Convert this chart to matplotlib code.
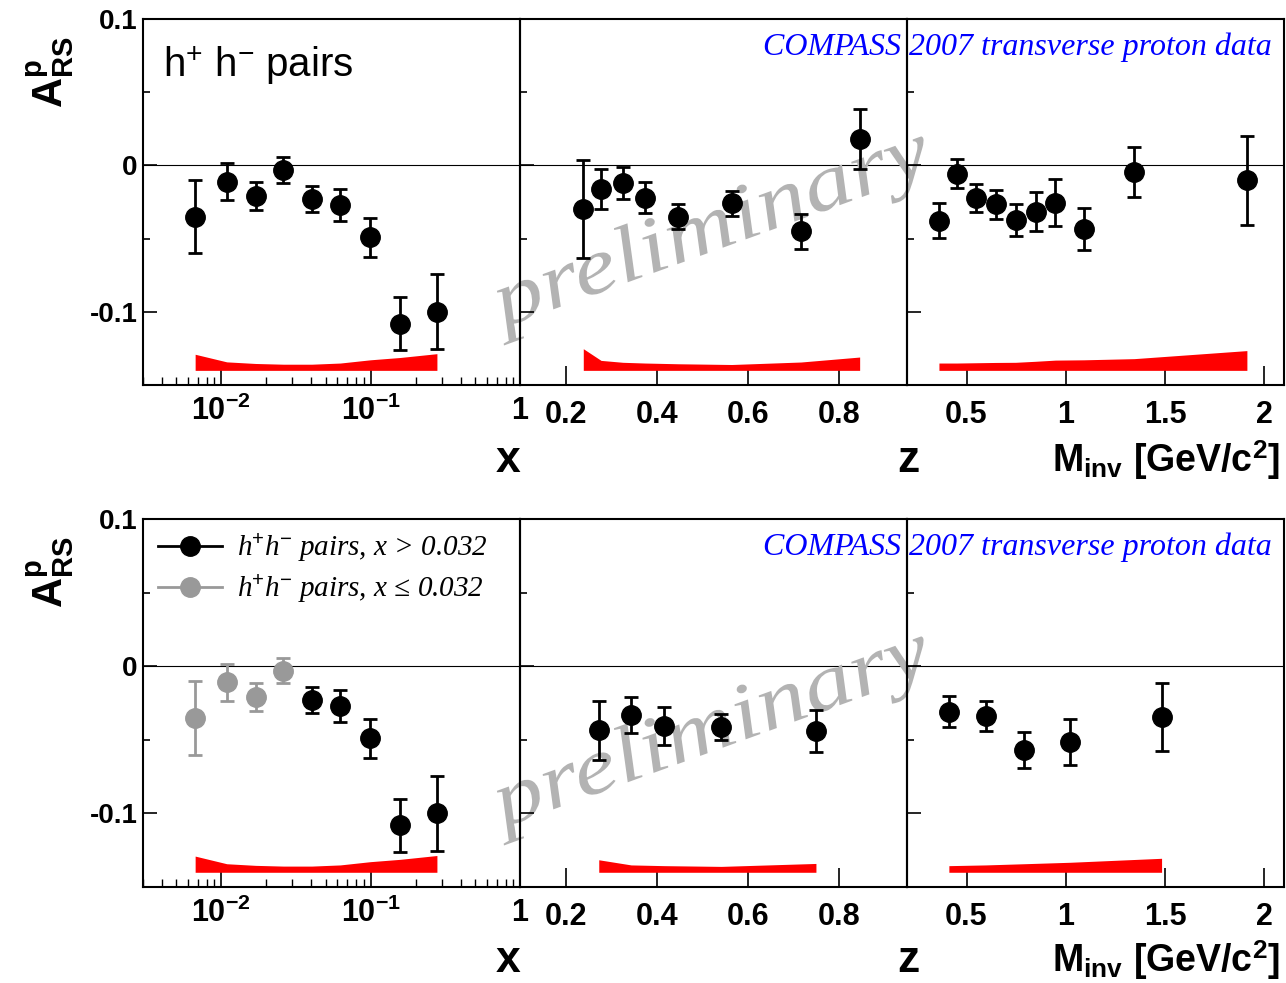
import numpy as np
import matplotlib.pyplot as plt
from matplotlib.lines import Line2D
from matplotlib.textpath import TextPath
from matplotlib.patches import PathPatch
from matplotlib.font_manager import FontProperties
from matplotlib.transforms import Affine2D

plt.rcParams['font.family'] = ['Liberation Sans', 'DejaVu Sans']
plt.rcParams['mathtext.fontset'] = 'custom'
plt.rcParams['mathtext.rm'] = 'Liberation Sans'
plt.rcParams['mathtext.bf'] = 'Liberation Sans:bold'
plt.rcParams['mathtext.it'] = 'Liberation Serif:italic'
plt.rcParams['mathtext.sf'] = 'Liberation Sans'

# --- x dependence (all pairs) ---
x_bins = np.array([0.0067, 0.0109, 0.0170, 0.0261, 0.0404, 0.0627, 0.0995, 0.158, 0.278])
a_x = np.array([-0.035, -0.011, -0.021, -0.003, -0.023, -0.027, -0.049, -0.108, -0.100])
e_x = np.array([0.025, 0.0125, 0.0097, 0.0087, 0.009, 0.011, 0.0134, 0.018, 0.0257])
sys_x = np.array([0.011, 0.0058, 0.0047, 0.0042, 0.0042, 0.005, 0.0072, 0.0088, 0.0114])

# --- z dependence, all x ---
z_bins = np.array([0.239, 0.278, 0.326, 0.375, 0.448, 0.565, 0.717, 0.846])
a_z = np.array([-0.030, -0.016, -0.012, -0.022, -0.035, -0.026, -0.045, 0.018])
e_z = np.array([0.0335, 0.0135, 0.0112, 0.0105, 0.0083, 0.0086, 0.0118, 0.0205])
sys_z = np.array([0.0148, 0.0068, 0.0055, 0.005, 0.0045, 0.004, 0.0057, 0.0091])

# --- M_inv dependence, all x ---
m_bins = np.array([0.361, 0.45, 0.547, 0.647, 0.747, 0.848, 0.948, 1.09, 1.345, 1.913])
a_m = np.array([-0.0377, -0.0057, -0.0221, -0.0267, -0.0372, -0.0315, -0.0256, -0.0434, -0.0046, -0.0103])
e_m = np.array([0.0117, 0.010, 0.0097, 0.010, 0.0108, 0.013, 0.016, 0.0146, 0.0171, 0.0303])
sys_m = np.array([0.005, 0.005, 0.0052, 0.0054, 0.0055, 0.0062, 0.007, 0.0072, 0.008, 0.0135])

# --- z dependence, x > 0.032 ---
z2_bins = np.array([0.273, 0.344, 0.417, 0.542, 0.75])
a_z2 = np.array([-0.0435, -0.0332, -0.0405, -0.0412, -0.044])
e_z2 = np.array([0.020, 0.0125, 0.013, 0.009, 0.014])
sys_z2 = np.array([0.0085, 0.005, 0.0045, 0.004, 0.006])

# --- M_inv dependence, x > 0.032 ---
m2_bins = np.array([0.411, 0.597, 0.789, 1.023, 1.483])
a_m2 = np.array([-0.031, -0.0337, -0.0569, -0.0512, -0.0344])
e_m2 = np.array([0.0105, 0.0103, 0.012, 0.0156, 0.023])
sys_m2 = np.array([0.0045, 0.005, 0.0058, 0.0068, 0.0095])

x_cut = 0.032
sys_base = -0.14

W, H = 1286, 983
fig = plt.figure(figsize=(W / 100, H / 100), dpi=100)


def rect(x0, x1, ytop, ybot):
    return [x0 / W, 1 - ybot / H, (x1 - x0) / W, (ybot - ytop) / H]


def points(ax, xs, ys, es, color='black'):
    ax.errorbar(xs, ys, yerr=es, fmt='o', color=color, ms=14, elinewidth=2.0,
                capsize=5, capthick=2.0, zorder=3)


def band(ax, xs, hs):
    ax.fill_between(xs, sys_base, sys_base + hs, color='#ff0000', lw=0, zorder=2)


def style(ax, first):
    ax.set_facecolor('none')
    ax.set_ylim(-0.15, 0.1)
    ax.set_yticks([-0.1, 0, 0.1])
    ax.set_yticks([-0.05, 0.05], minor=True)
    ax.axhline(0, color='black', lw=0.8, zorder=1)
    ax.tick_params(which='both', direction='in', top=False, right=False)
    ax.tick_params(axis='y', which='major', length=10, width=1.2, pad=4)
    ax.tick_params(axis='y', which='minor', length=5, width=1.2)
    if first:
        ax.set_yticklabels(['-0.1', '0', '0.1'], fontsize=20, fontweight='bold')
    else:
        ax.set_yticklabels([])
    for s in ax.spines.values():
        s.set_linewidth(1.5)


def watermark(ax, cx, cy):
    tp = TextPath((0, 0), "preliminary", size=1,
                  prop=FontProperties(family='Liberation Serif', style='italic'))
    ext = tp.get_extents()
    tr = (Affine2D().translate(-(ext.x0 + ext.x1) / 2, -(ext.y0 + ext.y1) / 2)
          .scale(98, 80).rotate_deg(20).translate(cx, cy).scale(1 / 100)
          + fig.dpi_scale_trans)
    ax.add_artist(PathPatch(tp, transform=tr, facecolor='#b3b3b3',
                            edgecolor='none', clip_on=False, zorder=1))


rows = [(19, 385), (519, 887)]
for r, (ytop, ybot) in enumerate(rows):
    ax1 = fig.add_axes(rect(143, 520, ytop, ybot))
    ax2 = fig.add_axes(rect(520, 907, ytop, ybot))
    ax3 = fig.add_axes(rect(907, 1284, ytop, ybot))

    # x panel (log)
    ax1.set_xscale('log')
    band(ax1, x_bins, sys_x)
    if r == 0:
        points(ax1, x_bins, a_x, e_x)
    else:
        low = x_bins <= x_cut
        points(ax1, x_bins[low], a_x[low], e_x[low], '#999999')
        points(ax1, x_bins[~low], a_x[~low], e_x[~low])
    ax1.set_xlim(0.003, 1)
    ax1.set_xticks([0.01, 0.1, 1])
    ax1.set_xticklabels([r'$\mathbf{10^{-2}}$', r'$\mathbf{10^{-1}}$', r'$\mathbf{1}$'], fontsize=22)
    ax1.tick_params(axis='x', which='major', length=12, width=1.2, pad=8)
    ax1.tick_params(axis='x', which='minor', length=6, width=1.0)
    style(ax1, True)

    # z panel
    if r == 0:
        band(ax2, z_bins, sys_z)
        points(ax2, z_bins, a_z, e_z)
    else:
        band(ax2, z2_bins, sys_z2)
        points(ax2, z2_bins, a_z2, e_z2)
    ax2.set_xlim(0.1, 0.95)
    ax2.set_xticks([0.2, 0.4, 0.6, 0.8])
    ax2.set_xticklabels(['0.2', '0.4', '0.6', '0.8'], fontsize=22, fontweight='bold')
    ax2.tick_params(axis='x', which='major', length=14, width=1.2, pad=11)
    style(ax2, False)
    watermark(ax2, 710, H - (232 + 500 * r))

    # M_inv panel
    if r == 0:
        band(ax3, m_bins, sys_m)
        points(ax3, m_bins, a_m, e_m)
    else:
        band(ax3, m2_bins, sys_m2)
        points(ax3, m2_bins, a_m2, e_m2)
    ax3.set_xlim(0.2, 2.1)
    ax3.set_xticks([0.5, 1, 1.5, 2])
    ax3.set_xticklabels(['0.5', '1', '1.5', '2'], fontsize=22, fontweight='bold')
    ax3.tick_params(axis='x', which='major', length=14, width=1.2, pad=11)
    style(ax3, False)

    off = 500 * r
    fig.text(50 / W, 1 - (72 + off) / H, r'$\mathbf{A^{p}_{RS}}$', rotation=90,
             ha='center', va='center', fontsize=30)
    fig.text(508 / W, 1 - (460 + off) / H, 'x', fontsize=32, fontweight='bold',
             ha='center', va='center')
    fig.text(908 / W, 1 - (460 + off) / H, 'z', fontsize=32, fontweight='bold',
             ha='center', va='center')
    fig.text(1280 / W, 1 - (460 + off) / H, r'$\mathbf{M_{inv}}$ [GeV/c$^{\mathbf{2}}$]',
             fontsize=27, fontweight='bold', ha='right', va='center')
    fig.text(763 / W, 1 - (55 + off) / H, 'COMPASS 2007 transverse proton data',
             family='Liberation Serif', style='italic', color='blue', fontsize=23,
             va='baseline', zorder=5)

    if r == 0:
        fig.text(163 / W, 1 - 77 / H, r'h$^{+}$ h$^{-}$ pairs', fontsize=29, va='baseline')
    else:
        handles = [Line2D([], [], color='black', marker='o', ms=14, lw=2.0),
                   Line2D([], [], color='#999999', marker='o', ms=14, lw=2.0)]
        labels = ['h$^{+}$h$^{-}$ pairs, x > 0.032', 'h$^{+}$h$^{-}$ pairs, x \u2264 0.032']
        ax1.legend(handles, labels, loc='upper left', bbox_to_anchor=(0.04, 0.965),
                   frameon=False, handlelength=2.2, handletextpad=0.5,
                   labelspacing=0.3, borderpad=0, borderaxespad=0,
                   prop=FontProperties(family=['Liberation Serif', 'DejaVu Serif'],
                                       style='italic', size=21))

fig.savefig('out.png', dpi=100)
